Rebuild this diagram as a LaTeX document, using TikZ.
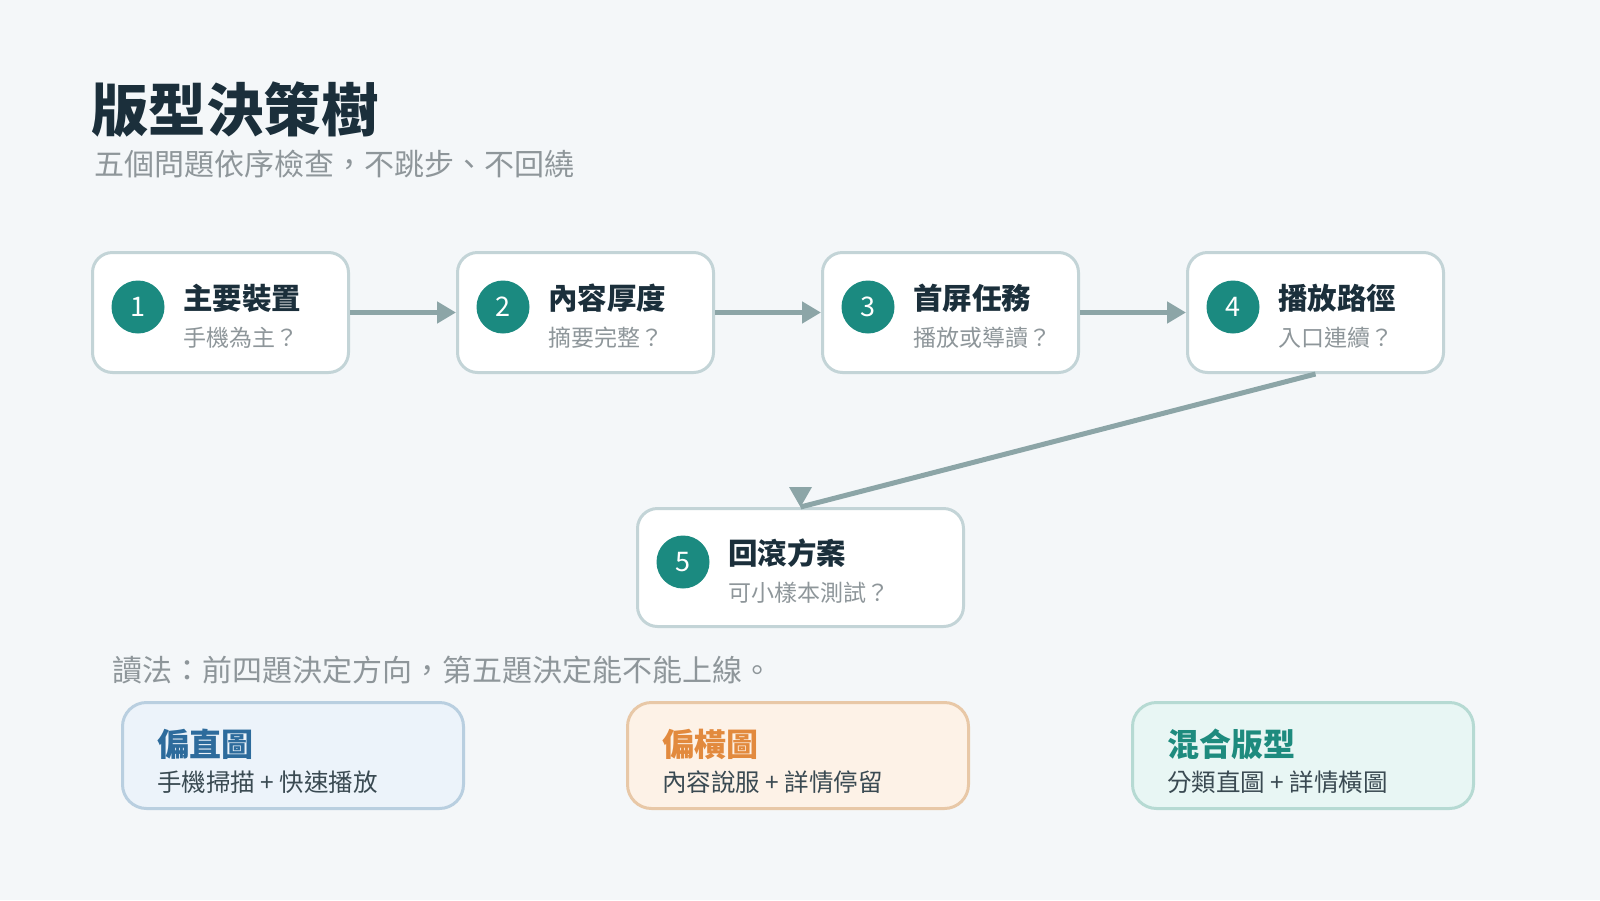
\documentclass[tikz,border=0pt]{standalone}
\usepackage{fontspec}
\setmainfont{Noto Sans CJK TC}
\usetikzlibrary{arrows.meta,calc}
\definecolor{bgc}{HTML}{F4F7F9}
\definecolor{boxline}{HTML}{C3D4D7}
\definecolor{teal}{HTML}{1B8A80}
\definecolor{ink}{HTML}{1B2F3B}
\definecolor{soft}{HTML}{8E969A}
\definecolor{arrowc}{HTML}{8CA5A7}
\definecolor{subdark}{HTML}{3A4A52}
\definecolor{afill}{HTML}{ECF3FA}
\definecolor{aline}{HTML}{B9CFE0}
\definecolor{atext}{HTML}{2D6B9C}
\definecolor{bfill}{HTML}{FDF2E7}
\definecolor{bline}{HTML}{E8C8A7}
\definecolor{btext}{HTML}{E28A3E}
\definecolor{cfill}{HTML}{E8F6F4}
\definecolor{cline}{HTML}{B6DAD3}
\definecolor{ctext}{HTML}{1E8B7E}
\tikzset{
  stepbox/.style={draw=boxline, line width=3pt, fill=white, rounded corners=20pt, minimum width=256pt, minimum height=120pt, inner sep=0pt},
  numdot/.style={circle, fill=teal, minimum size=53pt, inner sep=0pt, text=white, font=\fontsize{27}{29}\selectfont},
  steptitle/.style={anchor=west, inner sep=0pt, text=ink, font=\fontsize{29.5}{32}\selectfont\bfseries},
  stepsub/.style={anchor=west, inner sep=0pt, text=soft, font=\fontsize{23}{26}\selectfont},
  flow/.style={draw=arrowc, line width=5pt, -{Triangle[length=19pt,width=21pt]}},
  outbox/.style={line width=3pt, rounded corners=24pt, minimum width=341pt, minimum height=106pt, inner sep=0pt},
  outtitle/.style={anchor=west, inner sep=0pt, font=\fontsize{32}{34}\selectfont\bfseries},
  outsub/.style={anchor=west, inner sep=0pt, text=subdark, font=\fontsize{24.5}{27}\selectfont},
}
\begin{document}
\begin{tikzpicture}[x=1pt,y=-1pt]
\useasboundingbox (0,0) rectangle (1600,900);
\fill[bgc] (0,0) rectangle (1600,900);

% heading
\node[anchor=west, inner sep=0pt, text=ink, font=\fontsize{57.5}{60}\selectfont\bfseries] (title) at (91,110) {版型決策樹};
\node[anchor=west, inner sep=0pt, text=soft, font=\fontsize{30}{32}\selectfont] (subtitle) at (94,164) {五個問題依序檢查，不跳步、不回繞};

% step boxes
\node[stepbox] (s1) at (220.5,312.5) {};
\node[stepbox] (s2) at (585.5,312.5) {};
\node[stepbox] (s3) at (950.5,312.5) {};
\node[stepbox] (s4) at (1315.5,312.5) {};
\node[stepbox, minimum width=326pt, minimum height=118pt] (s5) at (800.5,567.5) {};

\node[numdot] (n1) at (138,307) {1};
\node[steptitle] (t1) at (183,298) {主要裝置};
\node[stepsub] (u1) at (183,338) {手機為主？};

\node[numdot] (n2) at (503,307) {2};
\node[steptitle] (t2) at (548,298) {內容厚度};
\node[stepsub] (u2) at (548,338) {摘要完整？};

\node[numdot] (n3) at (868,307) {3};
\node[steptitle] (t3) at (913,298) {首屏任務};
\node[stepsub] (u3) at (913,338) {播放或導讀？};

\node[numdot] (n4) at (1233,307) {4};
\node[steptitle] (t4) at (1278,298) {播放路徑};
\node[stepsub] (u4) at (1278,338) {入口連續？};

\node[numdot] (n5) at (683,562) {5};
\node[steptitle] (t5) at (728,553) {回滾方案};
\node[stepsub] (u5) at (728,593) {可小樣本測試？};

% connectors
\draw[flow] (s1.east) -- (s2.west);
\draw[flow] (s2.east) -- (s3.west);
\draw[flow] (s3.east) -- (s4.west);
\draw[draw=arrowc, line width=5pt] (s4.south) -- (s5.north);
\fill[arrowc] ($(s5.north)+(-11.5,-20)$) -- ($(s5.north)+(11.5,-20)$) -- (s5.north) -- cycle;

% reading note
\node[anchor=west, inner sep=0pt, text=soft, font=\fontsize{30}{32}\selectfont] (note) at (112,670) {讀法：前四題決定方向，第五題決定能不能上線。};

% outcome boxes
\node[outbox, draw=aline, fill=afill] (oa) at (293,755.5) {};
\node[outtitle, text=atext] (oat) at (157,744) {偏直圖};
\node[outsub] (oas) at (157,782) {手機掃描 + 快速播放};

\node[outbox, draw=bline, fill=bfill] (ob) at (798,755.5) {};
\node[outtitle, text=btext] (obt) at (662,744) {偏橫圖};
\node[outsub] (obs) at (662,782) {內容說服 + 詳情停留};

\node[outbox, draw=cline, fill=cfill] (oc) at (1303,755.5) {};
\node[outtitle, text=ctext] (oct) at (1167,744) {混合版型};
\node[outsub] (ocs) at (1167,782) {分類直圖 + 詳情橫圖};
\end{tikzpicture}
\end{document}
